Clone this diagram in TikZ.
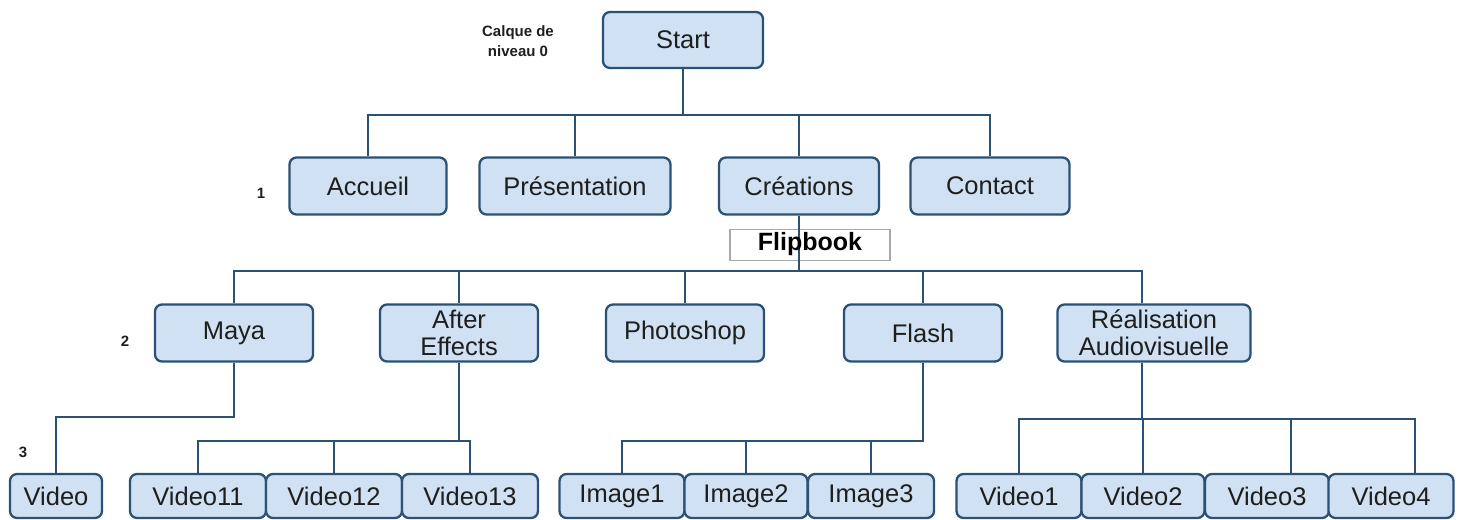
\documentclass[tikz,border=0pt]{standalone}
\usepackage{fontspec}
\setmainfont{Liberation Sans}
\definecolor{bdr}{HTML}{2B5175}
\definecolor{boxfill}{HTML}{CFE1F2}
\definecolor{txt}{HTML}{1E1E1E}
\definecolor{flipgray}{HTML}{A8A8A8}
\begin{document}
\begin{tikzpicture}[x=1pt,y=-1pt,
  box/.style={draw=bdr, fill=boxfill, line width=2.3pt, rounded corners=7pt, inner sep=0pt,
    text=txt, align=center, font=\fontsize{25.5}{27}\selectfont},
  top/.style={box, minimum width=160pt, minimum height=56pt},
  lvA/.style={box, minimum height=57pt},
  lvB/.style={box, minimum height=57pt, minimum width=158pt},
  lvC/.style={box, minimum height=44pt},
  conn/.style={draw=bdr, line width=2.5pt},
  lbl/.style={font=\bfseries\fontsize{15}{20}\selectfont, text=txt, align=center, inner sep=0pt}
]
\useasboundingbox (0,0) rectangle (1463,519);

% level 0
\node[top] (start) at (683,40) {Start};
\node[lbl] (calque) at (518,41) {Calque de\\niveau 0};

% level 1
\node[lbl] (n1) at (261,193) {1};
\node[lvA, minimum width=157pt] (acc) at (368,186) {Accueil};
\node[lvA, minimum width=191pt] (pres) at (575,186) {Présentation};
\node[lvA, minimum width=160pt] (cre) at (799,186) {Créations};
\node[lvA, minimum width=159pt] (con) at (990,186) {Contact};

% Flipbook
\node[draw=flipgray, fill=white, line width=1.2pt, minimum width=160pt, minimum height=31pt, inner sep=0pt] (flipbox) at (810,245) {};

% level 2
\node[lbl] (n2) at (125,341) {2};
\node[lvB] (maya) at (234,333) {Maya};
\node[lvB] (ae) at (459,333) {After\\Effects};
\node[lvB] (ps) at (685,333) {Photoshop};
\node[lvB] (fla) at (923,333) {Flash};
\node[lvB, minimum width=193pt] (rea) at (1154,333) {Réalisation\\Audiovisuelle};

% level 3
\node[lbl] (n3) at (23,452) {3};
\node[lvC, minimum width=92pt] (vid) at (56,496) {Video};
\node[lvC, minimum width=136pt] (v11) at (198,496) {Video11};
\node[lvC, minimum width=136pt] (v12) at (334,496) {Video12};
\node[lvC, minimum width=136pt] (v13) at (470,496) {Video13};
\node[lvC, minimum width=125pt] (im1) at (622,496) {Image1};
\node[lvC, minimum width=123pt] (im2) at (746,496) {Image2};
\node[lvC, minimum width=126pt] (im3) at (871,496) {Image3};
\node[lvC, minimum width=125pt] (w1) at (1019,496) {Video1};
\node[lvC, minimum width=123pt] (w2) at (1143,496) {Video2};
\node[lvC, minimum width=124pt] (w3) at (1267,496) {Video3};
\node[lvC, minimum width=125pt] (w4) at (1391,496) {Video4};

% bus coordinates
\coordinate (b0) at (683,115);
\coordinate (b1) at (799,271);
\coordinate (bm) at (234,417);
\coordinate (ba) at (459,441);
\coordinate (bf) at (923,441);
\coordinate (br) at (1142,419);

% level 0 -> 1
\draw[conn] (start.south) -- (b0);
\draw[conn] (acc.north) -- (acc.north |- b0) -- (con.north |- b0) -- (con.north);
\draw[conn] (pres.north) -- (pres.north |- b0);
\draw[conn] (cre.north) -- (cre.north |- b0);

% level 1 -> 2
\draw[conn] (cre.south) -- (b1);
\draw[conn] (maya.north) -- (maya.north |- b1) -- (br |- b1) -- (br |- rea.north);
\draw[conn] (ae.north) -- (ae.north |- b1);
\draw[conn] (ps.north) -- (ps.north |- b1);
\draw[conn] (fla.north) -- (fla.north |- b1);

% Flipbook label on top
\node[font=\bfseries\fontsize{25}{27}\selectfont, text=black, inner sep=0pt] (flip) at (810,244) {Flipbook};

% level 2 -> 3
\draw[conn] (maya.south) -- (bm) -- (vid.north |- bm) -- (vid.north);
\draw[conn] (ae.south) -- (ba);
\draw[conn] (v11.north) -- (v11.north |- ba) -- (v13.north |- ba) -- (v13.north);
\draw[conn] (v12.north) -- (v12.north |- ba);
\draw[conn] (fla.south) -- (bf) -- (im1.north |- bf) -- (im1.north);
\draw[conn] (im2.north) -- (im2.north |- bf);
\draw[conn] (im3.north) -- (im3.north |- bf);
\draw[conn] (br |- rea.south) -- (br);
\draw[conn] (w1.north) -- (w1.north |- br) -- ([xshift=24pt]w4.north |- br) -- ([xshift=24pt]w4.north);
\draw[conn] (w2.north) -- (w2.north |- br);
\draw[conn] ([xshift=24pt]w3.north) -- ([xshift=24pt]w3.north |- br);
\end{tikzpicture}
\end{document}
